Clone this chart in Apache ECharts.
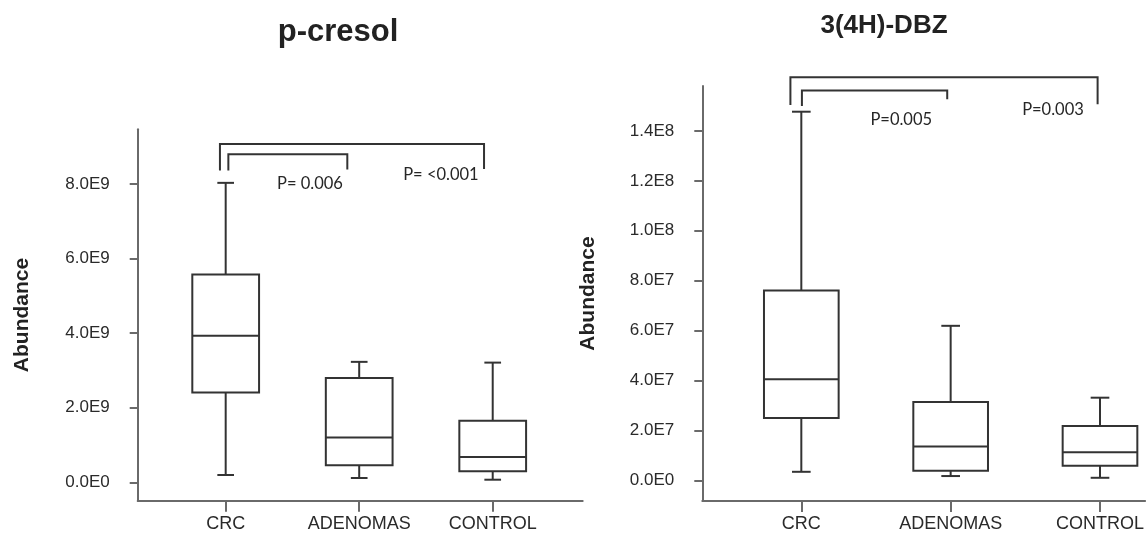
<!DOCTYPE html>
<html>
<head>
<meta charset="utf-8">
<script src="https://cdn.jsdelivr.net/npm/echarts@6/dist/echarts.min.js"></script>
<style>
  html, body { margin: 0; padding: 0; background: #fff; }
  #chart { width: 1147px; height: 534px; }
</style>
</head>
<body>
<div id="chart"></div>
<script>
// ---------- data ----------
const categories = ['CRC', 'ADENOMAS', 'CONTROL'];
const positions = [1, 2, 3];

const pcresolMin    = [0.196e9, 0.115e9, 0.07e9];
const pcresolQ1     = [2.41e9, 0.456e9, 0.295e9];
const pcresolMedian = [3.93e9, 1.20e9, 0.68e9];
const pcresolQ3     = [5.57e9, 2.80e9, 1.65e9];
const pcresolMax    = [8.03e9, 3.23e9, 3.21e9];

const dbzMin    = [0.34e7, 0.17e7, 0.10e7];
const dbzQ1     = [2.50e7, 0.385e7, 0.585e7];
const dbzMedian = [4.05e7, 1.35e7, 1.12e7];
const dbzQ3     = [7.61e7, 3.14e7, 2.18e7];
const dbzMax    = [14.77e7, 6.19e7, 3.31e7];

const pcresolTicks = [0, 2e9, 4e9, 6e9, 8e9];
const dbzTicks = [0, 2e7, 4e7, 6e7, 8e7, 1.0e8, 1.2e8, 1.4e8];

// significance brackets: [fromX, toX, topY, leftEndY, rightEndY]
const pcresolBrackets = [
  [0.957, 2.935, 9.07e9, 8.36e9, 8.40e9],
  [1.020, 1.911, 8.80e9, 8.36e9, 8.39e9]
];
const dbzBrackets = [
  [0.927, 2.984, 16.15e7, 15.04e7, 15.07e7],
  [1.004, 1.977, 15.62e7, 15.00e7, 15.27e7]
];
// p-value labels
const pcresolPText = ['P= 0.006', 'P= <0.001'];
const pcresolPPos  = [[1.631, 8.00e9], [2.612, 8.24e9]];
const dbzPText = ['P=0.005', 'P=0.003'];
const dbzPPos  = [[1.669, 14.44e7], [2.685, 14.84e7]];

// ---------- styles ----------
const BOX_COLOR = '#333333';
const AXIS_COLOR = '#6a6a6a';
const BOX_REL = 0.5;     // box width in x-units
const CAP_REL = 0.125;   // whisker cap width in x-units
const LABEL_FONT = '"Liberation Sans", Arial, sans-serif';

function sci(v) {
  if (v === 0) return '0.0E0';
  const e = Math.floor(Math.log10(v) + 1e-9);
  const m = v / Math.pow(10, e);
  return m.toFixed(1) + 'E' + e;
}

function boxData(mn, q1, md, q3, mx) {
  return positions.map((p, i) => [p, mn[i], q1[i], md[i], q3[i], mx[i]]);
}

function renderBox(params, api) {
  const x = api.value(0);
  const lo = api.coord([x, api.value(1)]);
  const q1 = api.coord([x, api.value(2)]);
  const md = api.coord([x, api.value(3)]);
  const q3 = api.coord([x, api.value(4)]);
  const hi = api.coord([x, api.value(5)]);
  const bw = api.size([BOX_REL, 0])[0];
  const cw = api.size([CAP_REL, 0])[0];
  const cx = md[0];
  const st = { stroke: BOX_COLOR, lineWidth: 2, fill: null };
  return {
    type: 'group',
    children: [
      { type: 'line', shape: { x1: cx, y1: q3[1], x2: cx, y2: hi[1] }, style: st },
      { type: 'line', shape: { x1: cx, y1: q1[1], x2: cx, y2: lo[1] }, style: st },
      { type: 'line', shape: { x1: cx - cw / 2, y1: hi[1], x2: cx + cw / 2, y2: hi[1] }, style: st },
      { type: 'line', shape: { x1: cx - cw / 2, y1: lo[1], x2: cx + cw / 2, y2: lo[1] }, style: st },
      { type: 'rect', shape: { x: cx - bw / 2, y: q3[1], width: bw, height: q1[1] - q3[1] },
        style: { fill: '#fff', stroke: BOX_COLOR, lineWidth: 2 } },
      { type: 'line', shape: { x1: cx - bw / 2, y1: md[1], x2: cx + bw / 2, y2: md[1] }, style: st }
    ]
  };
}

function renderBracket(params, api) {
  const x1 = api.value(0), x2 = api.value(1), top = api.value(2), le = api.value(3), re = api.value(4);
  const pts = [api.coord([x1, le]), api.coord([x1, top]), api.coord([x2, top]), api.coord([x2, re])];
  return { type: 'polyline', shape: { points: pts }, style: { stroke: BOX_COLOR, lineWidth: 2, fill: null } };
}

function makeTextRenderer(texts) {
  return function (params, api) {
    const p = api.coord([api.value(0), api.value(1)]);
    return {
      type: 'text', x: p[0], y: p[1],
      style: { text: texts[params.dataIndex], fill: '#262626', fontSize: 16.5,
               fontFamily: 'Lato, "Open Sans", sans-serif', align: 'center', verticalAlign: 'middle' }
    };
  };
}

function xAxisDef(gridIndex, min, max) {
  return {
    type: 'value', gridIndex, min, max,
    axisLine: { show: true, onZero: false, lineStyle: { color: AXIS_COLOR, width: 2 } },
    axisTick: { show: true, customValues: positions, length: 11, lineStyle: { color: AXIS_COLOR, width: 2 } },
    axisLabel: { customValues: positions, margin: 14, color: '#2a2a2a', fontSize: 18, fontFamily: LABEL_FONT,
                 formatter: v => categories[Math.round(v) - 1] || '' },
    splitLine: { show: false }
  };
}

function yAxisDef(gridIndex, min, max, ticks, gap) {
  return {
    type: 'value', gridIndex, min, max,
    name: 'Abundance', nameLocation: 'middle', nameGap: gap, nameRotate: 90,
    nameTextStyle: { fontFamily: '"Liberation Sans", Arial, sans-serif', fontWeight: 'bold', fontSize: 21, color: '#222' },
    axisLine: { show: true, onZero: false, lineStyle: { color: AXIS_COLOR, width: 2 } },
    axisTick: { show: true, customValues: ticks, length: 8, lineStyle: { color: AXIS_COLOR, width: 2 } },
    axisLabel: { customValues: ticks, margin: 28, color: '#2a2a2a', fontSize: 17, fontFamily: LABEL_FONT, formatter: sci },
    splitLine: { show: false }
  };
}

const chart = echarts.init(document.getElementById('chart'), null, { renderer: 'canvas' });
chart.setOption({
  backgroundColor: '#fff',
  animation: false,
  title: [
    { text: 'p-cresol', left: 333, top: 12, textAlign: 'center',
      textStyle: { fontFamily: '"Liberation Sans", Arial, sans-serif', fontWeight: 'bold', fontSize: 31, color: '#222' } },
    { text: '3(4H)-DBZ', left: 879, top: 8, textAlign: 'center',
      textStyle: { fontFamily: '"Liberation Sans", Arial, sans-serif', fontWeight: 'bold', fontSize: 26, color: '#222' } }
  ],
  grid: [
    { left: 137.7, top: 129.3, width: 445, height: 371.4 },
    { left: 702.3, top: 86, width: 444.7, height: 415 }
  ],
  xAxis: [ xAxisDef(0, 0.341, 3.674), xAxisDef(1, 0.337, 3.302) ],
  yAxis: [ yAxisDef(0, -0.493e9, 9.466e9, pcresolTicks, 105), yAxisDef(1, -0.83e7, 15.80e7, dbzTicks, 104) ],
  series: [
    { type: 'custom', name: 'p-cresol', xAxisIndex: 0, yAxisIndex: 0, renderItem: renderBox,
      encode: { x: 0, y: [1, 2, 3, 4, 5] },
      data: boxData(pcresolMin, pcresolQ1, pcresolMedian, pcresolQ3, pcresolMax) },
    { type: 'custom', name: '3(4H)-DBZ', xAxisIndex: 1, yAxisIndex: 1, renderItem: renderBox,
      encode: { x: 0, y: [1, 2, 3, 4, 5] },
      data: boxData(dbzMin, dbzQ1, dbzMedian, dbzQ3, dbzMax) },
    { type: 'custom', xAxisIndex: 0, yAxisIndex: 0, renderItem: renderBracket, clip: false, silent: true,
      encode: { x: [0, 1], y: [2, 3, 4] }, data: pcresolBrackets },
    { type: 'custom', xAxisIndex: 1, yAxisIndex: 1, renderItem: renderBracket, clip: false, silent: true,
      encode: { x: [0, 1], y: [2, 3, 4] }, data: dbzBrackets },
    { type: 'custom', xAxisIndex: 0, yAxisIndex: 0, renderItem: makeTextRenderer(pcresolPText), clip: false, silent: true,
      encode: { x: 0, y: 1 }, data: pcresolPPos },
    { type: 'custom', xAxisIndex: 1, yAxisIndex: 1, renderItem: makeTextRenderer(dbzPText), clip: false, silent: true,
      encode: { x: 0, y: 1 }, data: dbzPPos }
  ]
});
</script>
</body>
</html>
